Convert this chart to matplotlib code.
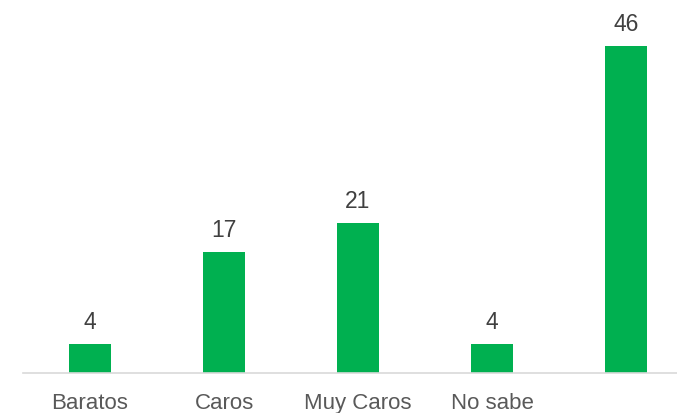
import matplotlib
matplotlib.use("Agg")
from matplotlib import pyplot as plt

categories = ["Baratos", "Caros", "Muy Caros", "No sabe", ""]
values = [4, 17, 21, 4, 46]

plt.rcParams['font.family'] = ['Liberation Sans', 'DejaVu Sans']

fig = plt.figure(figsize=(6.77, 4.14), dpi=100)
ax = fig.add_axes([23 / 677, 40.5 / 414, 670 / 677, 355 / 414])

x = list(range(len(categories)))
bars = ax.bar(x, values, width=0.31, color='#00B050')

for b, v in zip(bars, values):
    ax.annotate(str(v), (b.get_x() + b.get_width() / 2, b.get_height()),
                xytext=(0, 8), textcoords='offset points',
                ha='center', va='bottom', fontsize=16.5, color='#404040')

ax.set_xlim(-0.5, len(categories) - 0.5)
ax.set_ylim(0, 50)
ax.set_xticks(x)
ax.set_xticklabels(categories, fontsize=16, color='#595959')
ax.tick_params(axis='x', length=0, pad=14)
ax.set_yticks([])
for s in ['top', 'right', 'left']:
    ax.spines[s].set_visible(False)
ax.spines['bottom'].set_color('#D9D9D9')
ax.spines['bottom'].set_linewidth(1.2)

fig.savefig('out.png', dpi=100)
